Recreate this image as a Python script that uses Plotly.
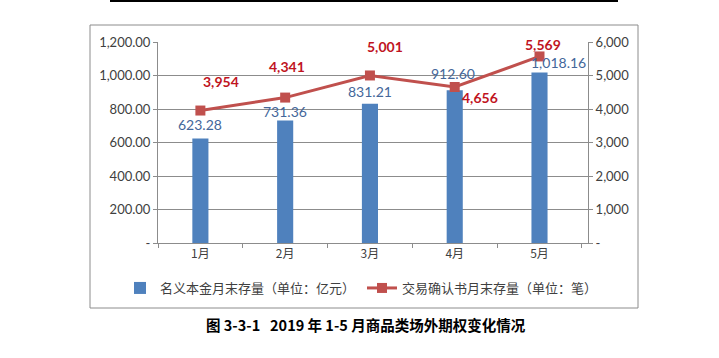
import plotly.graph_objects as go

months = ["1月", "2月", "3月", "4月", "5月"]
notional = [623.28, 731.36, 831.21, 912.60, 1018.16]
confirmations = [3954, 4341, 5001, 4656, 5569]
left_ticks = [0, 200, 400, 600, 800, 1000, 1200]
left_ticktext = ["-", "200.00", "400.00", "600.00", "800.00", "1,000.00", "1,200.00"]
right_ticks = [0, 1000, 2000, 3000, 4000, 5000, 6000]
right_ticktext = ["-", "1,000", "2,000", "3,000", "4,000", "5,000", "6,000"]

# label offsets (pixels) — styling only
bar_lbl_dx = [0, 0, 0, -2, 19]
bar_lbl_dy = [14, 9, 12, 17, 10]
line_lbl_dx = [21, 2, 15, 25, 3]
line_lbl_dy = [29, 31, 29, -10, 12]

W, H = 719, 358
L, R, T, B = 158, 588, 42, 243
pw, ph = R - L, B - T

def px(x):
    return (x - L) / pw

def py(y):
    return (B - y) / ph

fig = go.Figure()
fig.add_trace(go.Bar(
    x=months, y=notional, name="名义本金月末存量（单位：亿元）",
    marker=dict(color="#4F81BD", line=dict(width=0)), width=0.19,
    yaxis="y", legend="legend",
))
fig.add_trace(go.Scatter(
    x=months, y=confirmations, name="交易确认书月末存量（单位：笔）",
    mode="lines+markers", yaxis="y2", legend="legend2",
    line=dict(color="#C0504D", width=3),
    marker=dict(symbol="square", size=10, color="#C0504D"),
    cliponaxis=False,
))

for i, (m, v) in enumerate(zip(months, notional)):
    fig.add_annotation(x=m, y=v, xref="x", yref="y", text=f"{v:,.2f}",
                       showarrow=False, xshift=bar_lbl_dx[i], yshift=bar_lbl_dy[i],
                       font=dict(family="Lato", size=14, color="#44679A"))
for i, (m, v) in enumerate(zip(months, confirmations)):
    fig.add_annotation(x=m, y=v, xref="x", yref="y2", text=f"{v:,}",
                       showarrow=False, xshift=line_lbl_dx[i], yshift=line_lbl_dy[i],
                       font=dict(family="Lato", size=14, color="#C0141E", weight="bold"))

grid = "#8C8C8C"
legfont = dict(family="Noto Sans CJK SC", size=13, color="#404040")
fig.update_layout(
    width=W, height=H, autosize=False,
    margin=dict(l=L, r=W - R, t=T, b=H - B),
    paper_bgcolor="white", plot_bgcolor="white",
    font=dict(family="Lato", size=13, color="#404040"),
    xaxis=dict(showline=True, linecolor=grid, linewidth=1, ticks="outside",
               tickson="boundaries", ticklen=4, tickcolor=grid,
               tickfont=dict(family="Noto Sans CJK SC", size=12, color="#404040"),
               showgrid=False),
    yaxis=dict(range=[0, 1200], tickvals=left_ticks, ticktext=left_ticktext,
               showgrid=True, gridcolor=grid, gridwidth=1, showline=True,
               linecolor=grid, ticks="outside", ticklen=4, tickcolor=grid,
               zeroline=False, tickfont=dict(size=13, color="#404040")),
    yaxis2=dict(range=[0, 6000], tickvals=right_ticks, ticktext=right_ticktext,
                overlaying="y", side="right", showgrid=False, showline=True,
                linecolor=grid, ticks="outside", ticklen=4, tickcolor=grid,
                zeroline=False, tickfont=dict(size=13, color="#404040")),
    legend=dict(orientation="h", x=px(120), xanchor="left", y=py(288), yanchor="middle",
                font=legfont, bgcolor="rgba(0,0,0,0)"),
    legend2=dict(orientation="h", x=px(362), xanchor="left", y=py(288), yanchor="middle",
                 font=legfont, bgcolor="rgba(0,0,0,0)"),
    showlegend=True,
)
fig.add_shape(type="line", xref="paper", yref="paper",
              x0=px(110), x1=px(618), y0=py(1), y1=py(1),
              line=dict(color="black", width=2))
fig.add_shape(type="rect", xref="paper", yref="paper",
              x0=px(90), x1=px(638), y0=py(308), y1=py(25),
              line=dict(color="#8C8C8C", width=1))
fig.add_annotation(text="图 3-3-1   2019 年 1-5 月商品类场外期权变化情况",
                   xref="paper", yref="paper", x=px(366), y=py(324),
                   showarrow=False, xanchor="center", yanchor="middle",
                   font=dict(family="Noto Sans CJK SC", size=14.5, color="black", weight="bold"))

fig.write_html("out.html", config={"displayModeBar": False},
               post_script="document.body.style.margin='0';document.body.style.overflow='hidden';")
